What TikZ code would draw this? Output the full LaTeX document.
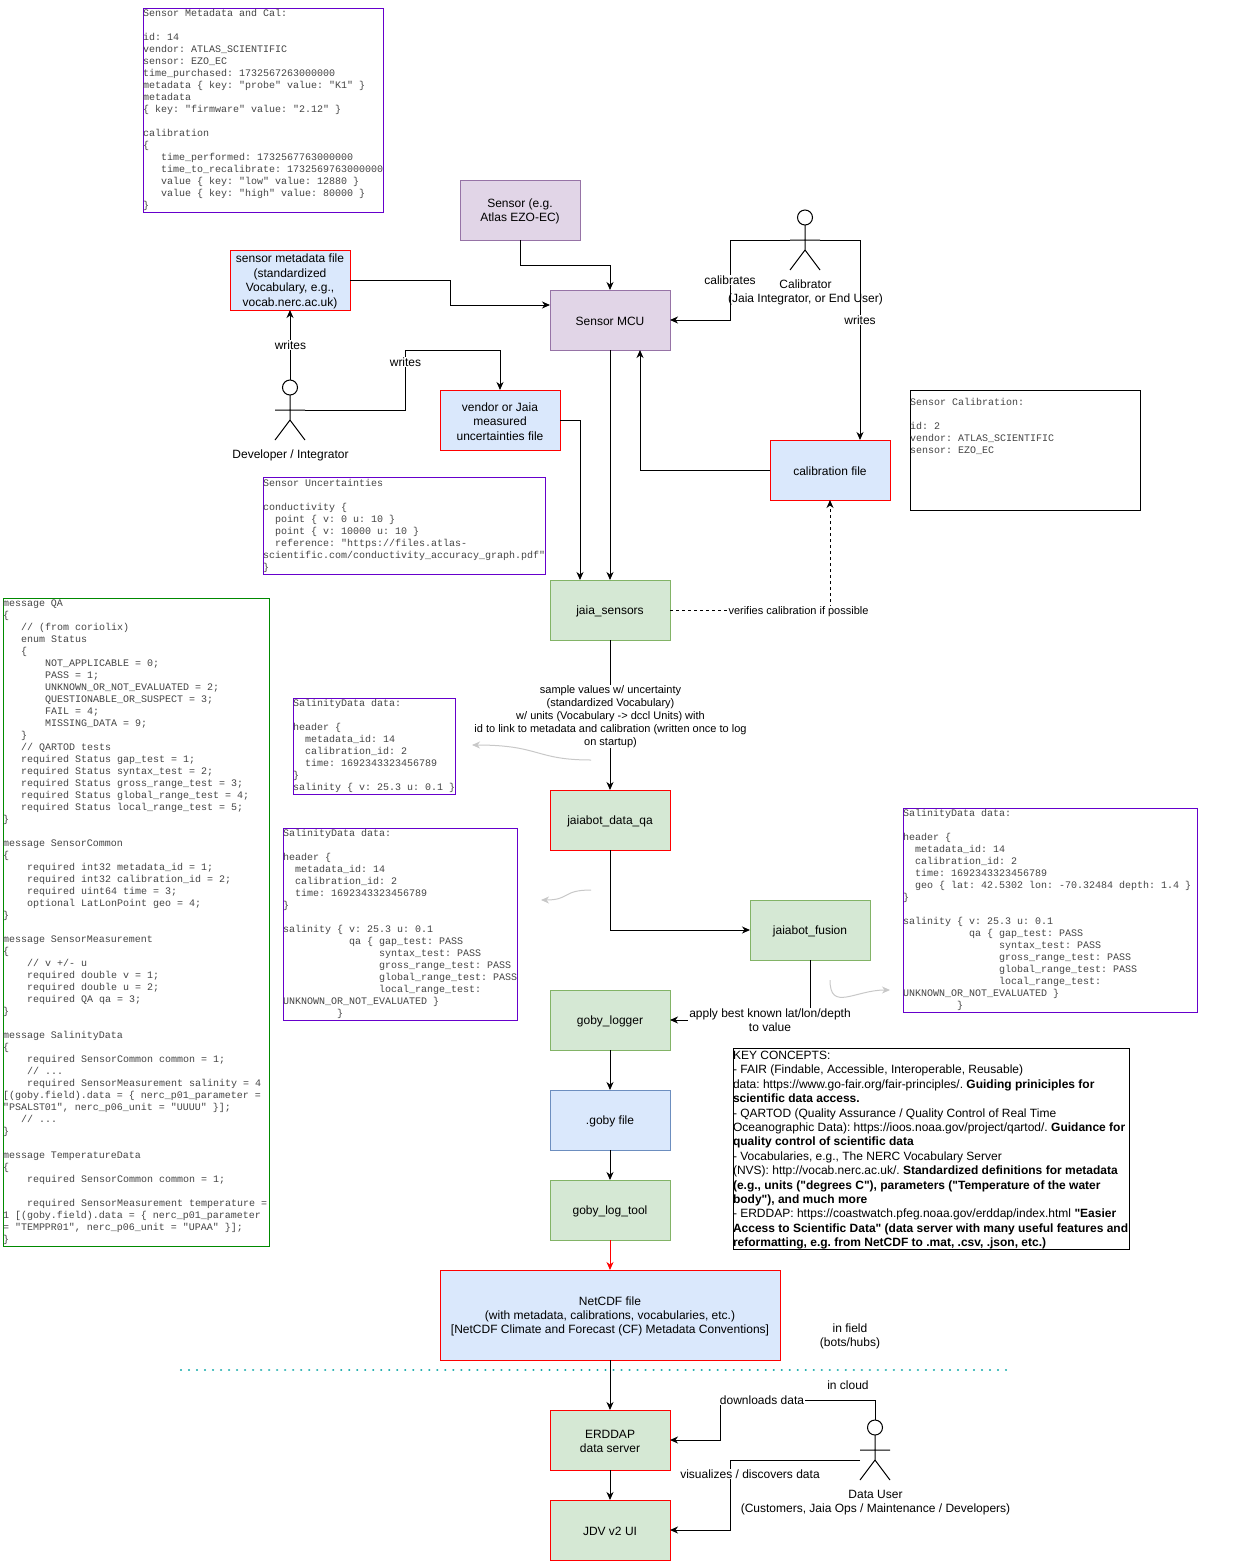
\documentclass[tikz,border=0pt]{standalone}
\usepackage{fontspec}
\setmainfont{Liberation Sans}[Ligatures=TeXOff]
\setmonofont{Liberation Mono}
\usepackage{xcolor}
\usepackage{tikz}
\usetikzlibrary{arrows.meta,calc}
\definecolor{purplefill}{HTML}{E1D5E7}
\definecolor{purpleline}{HTML}{9673A6}
\definecolor{bluefill}{HTML}{DAE8FC}
\definecolor{blueline}{HTML}{6C8EBF}
\definecolor{greenfill}{HTML}{D5E8D4}
\definecolor{greenline}{HTML}{82B366}
\definecolor{notepurple}{HTML}{6600CC}
\definecolor{notegreen}{HTML}{008A00}
\definecolor{monotext}{HTML}{444444}
\definecolor{dotteal}{HTML}{12AAAA}
\definecolor{hintgrey}{HTML}{C8C8C8}
\newcommand{\wline}[2]{\makebox[#1pt][l]{#2}}
\newcommand{\tl}{\rule{0pt}{11.4pt}}
\begin{document}
\frenchspacing
\begin{tikzpicture}[
    x=1pt, y=-1pt, line width=1pt, >={Stealth[length=8pt,width=7pt,inset=2.5pt]},
    every node/.style={font=\fontsize{12}{14.4}\selectfont, align=center, inner sep=0pt, outer sep=0pt},
    flowbox/.style={draw, minimum width=120pt, minimum height=60pt},
    purplebox/.style={flowbox, fill=purplefill, draw=purpleline},
    filebox/.style={flowbox, fill=bluefill, draw=red},
    bluebox/.style={flowbox, fill=bluefill, draw=blueline},
    greenbox/.style={flowbox, fill=greenfill, draw=greenline},
    checkbox/.style={flowbox, fill=greenfill, draw=red},
    monobox/.style={draw=notepurple, anchor=north west, align=left, text=monotext,
        font=\ttfamily\fontsize{10}{12}\selectfont},
    lbl/.style={fill=white, inner xsep=1pt, inner ysep=0.5pt},
    lblsmall/.style={lbl, font=\fontsize{11}{13}\selectfont},
    hint/.style={->, hintgrey},
    actor/.pic={
        \draw (0,7.5) circle[radius=7.5];
        \draw (0,15) -- (0,40) (-15,30) -- (15,30) (-15,60) -- (0,40) -- (15,60);
        \coordinate (-top) at (0,0);
        \coordinate (-left) at (-15,30);
        \coordinate (-right) at (15,30);
        \coordinate (-hip) at (-15,40);
    }
]
\useasboundingbox (0,0) rectangle (1260,1561);

% Notes
\node (metanote) at (143,8) [monobox, minimum height=204pt] {\wline{240}{Sensor Metadata and Cal:}\\
~\\
id: 14\\
vendor: ATLAS\_SCIENTIFIC\\
sensor: EZO\_EC\\
time\_purchased: 1732567263000000\\
metadata \{ key: "probe" value: "K1" \}\\
metadata\\
\{ key: "firmware" value: "2.12" \}\\
~\\
calibration\\
\{\\
~~~time\_performed: 1732567763000000\\
~~~time\_to\_recalibrate: 1732569763000000\\
~~~value \{ key: "low" value: 12880 \}\\
~~~value \{ key: "high" value: 80000 \}\\
\}};

\node (calnote) at (910,390) [monobox, draw=black, minimum height=120pt] {\wline{230}{Sensor Calibration:}\\
~\\
id: 2\\
vendor: ATLAS\_SCIENTIFIC\\
sensor: EZO\_EC\\
~\\
~\\
~\\
~};

\node (uncertnote) at (263,477) [monobox, minimum height=97pt] {\wline{282}{Sensor Uncertainties}\\
~\\
conductivity \{\\
~~point \{ v: 0 u: 10 \}\\
~~point \{ v: 10000 u: 10 \}\\
~~reference: "https://files.atlas-\\
scientific.com/conductivity\_accuracy\_graph.pdf"\\
\}};

\node (protonote) at (3,598) [monobox, draw=notegreen, minimum height=648pt] {\wline{266}{message QA}\\
\{\\
~~~// (from coriolix)\\
~~~enum Status\\
~~~\{\\
~~~~~~~NOT\_APPLICABLE = 0;\\
~~~~~~~PASS = 1;\\
~~~~~~~UNKNOWN\_OR\_NOT\_EVALUATED = 2;\\
~~~~~~~QUESTIONABLE\_OR\_SUSPECT = 3;\\
~~~~~~~FAIL = 4;\\
~~~~~~~MISSING\_DATA = 9;\\
~~~\}\\
~~~// QARTOD tests\\
~~~required Status gap\_test = 1;\\
~~~required Status syntax\_test = 2;\\
~~~required Status gross\_range\_test = 3;\\
~~~required Status global\_range\_test = 4;\\
~~~required Status local\_range\_test = 5;\\
\}\\
~\\
message SensorCommon\\
\{\\
~~~~required int32 metadata\_id = 1;\\
~~~~required int32 calibration\_id = 2;\\
~~~~required uint64 time = 3;\\
~~~~optional LatLonPoint geo = 4;\\
\}\\
~\\
message SensorMeasurement\\
\{\\
~~~~// v +/- u\\
~~~~required double v = 1;\\
~~~~required double u = 2;\\
~~~~required QA qa = 3;\\
\}\\
~\\
message SalinityData\\
\{\\
~~~~required SensorCommon common = 1;\\
~~~~// ...\\
~~~~required SensorMeasurement salinity = 4\\
{[}(goby.field).data = \{ nerc\_p01\_parameter =\\
"PSALST01", nerc\_p06\_unit = "UUUU" \}{]};\\
~~~// ...\\
\}\\
~\\
message TemperatureData\\
\{\\
~~~~required SensorCommon common = 1;\\
~\\
~~~~required SensorMeasurement temperature =\\
1 {[}(goby.field).data = \{ nerc\_p01\_parameter\\
= "TEMPPR01", nerc\_p06\_unit = "UPAA" \}{]};\\
\}};

\node (rawnote) at (293,698) [monobox, minimum height=96pt] {\wline{162}{SalinityData data:}\\
~\\
header \{\\
~~metadata\_id: 14\\
~~calibration\_id: 2\\
~~time: 1692343323456789\\
\}\\
salinity \{ v: 25.3 u: 0.1 \}};

\node (qanote) at (283,828) [monobox, minimum height=192pt] {\wline{234}{SalinityData data:}\\
~\\
header \{\\
~~metadata\_id: 14\\
~~calibration\_id: 2\\
~~time: 1692343323456789\\
\}\\
~\\
salinity \{ v: 25.3 u: 0.1\\
~~~~~~~~~~~qa \{ gap\_test: PASS\\
~~~~~~~~~~~~~~~~syntax\_test: PASS\\
~~~~~~~~~~~~~~~~gross\_range\_test: PASS\\
~~~~~~~~~~~~~~~~global\_range\_test: PASS\\
~~~~~~~~~~~~~~~~local\_range\_test:\\
UNKNOWN\_OR\_NOT\_EVALUATED \}\\
~~~~~~~~~\}};

\node (fusednote) at (903,808) [monobox, minimum height=204pt] {\wline{294}{SalinityData data:}\\
~\\
header \{\\
~~metadata\_id: 14\\
~~calibration\_id: 2\\
~~time: 1692343323456789\\
~~geo \{ lat: 42.5302 lon: -70.32484 depth: 1.4 \}\\
\}\\
~\\
salinity \{ v: 25.3 u: 0.1\\
~~~~~~~~~~~qa \{ gap\_test: PASS\\
~~~~~~~~~~~~~~~~syntax\_test: PASS\\
~~~~~~~~~~~~~~~~gross\_range\_test: PASS\\
~~~~~~~~~~~~~~~~global\_range\_test: PASS\\
~~~~~~~~~~~~~~~~local\_range\_test:\\
UNKNOWN\_OR\_NOT\_EVALUATED \}\\
~~~~~~~~~\}};

\node (keynote) at (733,1048) [draw, anchor=north west, align=left, minimum height=201pt] {\wline{396}{\tl KEY CONCEPTS:}\\
- FAIR (Findable, Accessible, Interoperable, Reusable)\\
data: https://www.go-fair.org/fair-principles/. \textbf{Guiding priniciples for}\\
\textbf{scientific data access.}\\
- QARTOD (Quality Assurance / Quality Control of Real Time\\
Oceanographic Data): https://ioos.noaa.gov/project/qartod/. \textbf{Guidance for}\\
\textbf{quality control of scientific data}\\
- Vocabularies, e.g., The NERC Vocabulary Server\\
(NVS): http://vocab.nerc.ac.uk/. \textbf{Standardized definitions for metadata}\\
\textbf{(e.g., units ("degrees C"), parameters ("Temperature of the water}\\
\textbf{body"), and much more}\\
- ERDDAP: https://coastwatch.pfeg.noaa.gov/erddap/index.html \textbf{"Easier}\\
\textbf{Access to Scientific Data" (data server with many useful features and}\\
\textbf{reformatting, e.g. from NetCDF to .mat, .csv, .json, etc.)}};

% Flow boxes
\node (sensor) at (520,210) [purplebox] {\tl Sensor (e.g.\\Atlas EZO-EC)};
\node (mcu) at (610,320) [purplebox] {\tl Sensor MCU};
\node (metafile) at (290,280) [filebox] {\tl sensor metadata file\\(standardized\\Vocabulary, e.g.,\\vocab.nerc.ac.uk)};
\node (uncertfile) at (500,420) [filebox] {\tl vendor or Jaia\\measured\\uncertainties file};
\node (calfile) at (830,470) [filebox] {\tl calibration file};
\node (sensors) at (610,610) [greenbox] {\tl jaia\_sensors};
\node (dataqa) at (610,820) [checkbox] {\tl jaiabot\_data\_qa};
\node (fusion) at (810,930) [greenbox] {\tl jaiabot\_fusion};
\node (logger) at (610,1020) [greenbox] {\tl goby\_logger};
\node (gobyfile) at (610,1120) [bluebox] {\tl .goby file};
\node (logtool) at (610,1210) [greenbox] {\tl goby\_log\_tool};
\node (netcdf) at (610,1315) [filebox, minimum width=340pt, minimum height=90pt] {\tl NetCDF file\\(with metadata, calibrations, vocabularies, etc.)\\{[}NetCDF Climate and Forecast (CF) Metadata Conventions{]}};
\node (erddap) at (610,1440) [checkbox] {\tl ERDDAP\\data server};
\node (jdv) at (610,1530) [checkbox] {\tl JDV v2 UI};

% Actors
\pic (calibrator) at (805,210) {actor};
\pic (developer) at (290,380) {actor};
\pic (datauser) at (875,1420) {actor};
\node (calibratorname) at (805.5,292.5) {Calibrator\\(Jaia Integrator, or End User)};
\node (developername) at (290.5,455) {Developer / Integrator};
\node (datausername) at (875.5,1502.5) {Data User\\(Customers, Jaia Ops / Maintenance / Developers)};

% Field and cloud
\coordinate (splitleft) at (181,1370);
\coordinate (splitright) at (1008,1370);
\draw[dotteal, line width=2.4pt, line cap=round, dash pattern=on 0.01pt off 8pt] (splitleft) -- (splitright);
\node (infield) at (850,1336.5) {in field\\(bots/hubs)};
\node (incloud) at (848,1385) {in cloud};

% Connectors
\draw[->] (sensor.south) |- (610,265) -- (mcu.north);
\draw[->] (metafile.east) -| (450,305) -- ($(mcu.north west)!0.25!(mcu.south west)$);
\draw[->] (developer-top) -- (metafile.south);
\draw[->] (developer-right) -| (405,350) -| (uncertfile.north);
\draw[->] (calibrator-left) -| (730,320) -- (mcu.east);
\draw[->] (calibrator-right) -| ($(calfile.north west)!0.75!(calfile.north east)$);
\draw[->] (calfile.west) -| ($(mcu.south west)!0.75!(mcu.south east)$);
\draw[->] (uncertfile.east) -| ($(sensors.north west)!0.25!(sensors.north east)$);
\draw[->] (mcu.south) -- (sensors.north);
\draw[->, dashed, dash pattern=on 3pt off 3pt] (sensors.east) -| (calfile.south);
\draw[->] (sensors.south) -- (dataqa.north);
\draw[->] (dataqa.south) |- (fusion.west);
\draw[->] (fusion.south) |- (logger.east);
\draw[->] (logger.south) -- (gobyfile.north);
\draw[->] (gobyfile.south) -- (logtool.north);
\draw[->, red] (logtool.south) -- (netcdf.north);
\draw[->] (netcdf.south) -- (erddap.north);
\draw[->] (erddap.south) -- (jdv.north);
\draw[->] (datauser-top) |- (720,1400) |- (erddap.east);
\draw[->] (datauser-hip) -| (730,1530) -- (jdv.east);

% Edge labels
\node (writesmeta) at (290.5,345) [lbl] {writes};
\node (writesuncert) at (405.5,362) [lbl] {writes};
\node (calibrates) at (730,280) [lbl] {calibrates};
\node (writescal) at (860,320) [lbl] {writes};
\node (verifies) at (798.5,612) [lblsmall] {verifies calibration if possible};
\node (samples) at (610.5,716.5) [lblsmall] {sample values w/ uncertainty\\(standardized Vocabulary)\\w/ units (Vocabulary -> dccl Units) with\\id to link to metadata and calibration (written once to log\\on startup)};
\node (bestknown) at (770,1020) [lbl] {apply best known lat/lon/depth\\to value};
\node (downloads) at (762,1400) [lbl] {downloads data};
\node (visualizes) at (750,1474) [lbl] {visualizes / discovers data};

% Grey hints to the notes
\coordinate (rawstart) at (591,760);
\coordinate (rawend) at (472,745);
\coordinate (qastart) at (591,890);
\coordinate (qaend) at (541,900);
\coordinate (fusedstart) at (830,980);
\coordinate (fusedend) at (890,990);
\draw[hint] (rawstart) .. controls (535,760) and (540,745) .. (rawend);
\draw[hint] (qastart) .. controls (562,890) and (570,900) .. (qaend);
\draw[hint] (fusedstart) .. controls (830,1012) and (855,990) .. (fusedend);
\end{tikzpicture}
\end{document}
